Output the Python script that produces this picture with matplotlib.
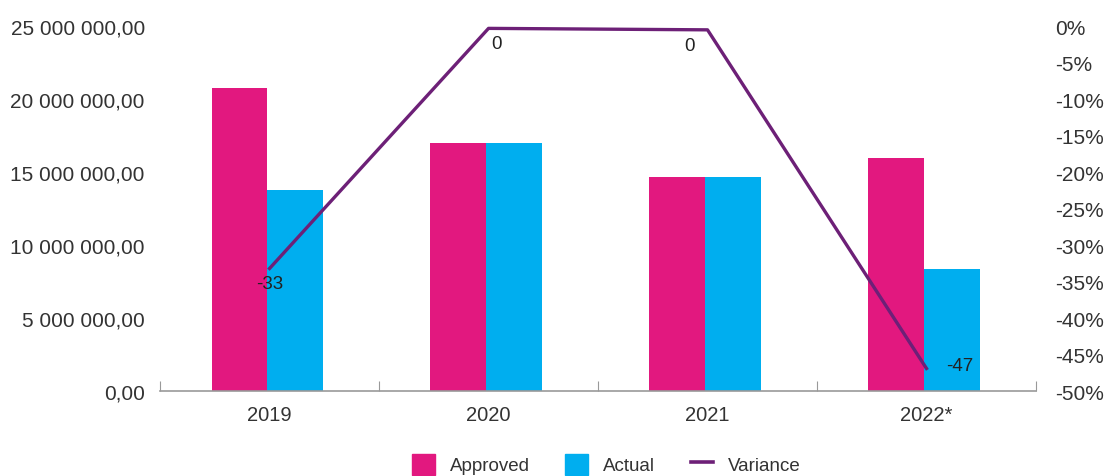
import matplotlib.pyplot as plt
from matplotlib.ticker import FuncFormatter, FixedLocator
from matplotlib.patches import Patch
from matplotlib.lines import Line2D

years = ['2019', '2020', '2021', '2022*']
approved = [20750000, 16990000, 14660000, 15960000]
actual = [13770000, 16990000, 14660000, 8360000]
variance = [-33.2, -0.3, -0.5, -46.9]

pink = '#E2187F'
blue = '#00AEEF'
purple = '#6D2077'
txt = '#333333'

plt.rcParams['font.family'] = ['Liberation Sans', 'DejaVu Sans']

fig = plt.figure(figsize=(11.13, 4.77), dpi=100)
ax = fig.add_axes([0.1438, 0.178, 0.787, 0.765])
x = range(len(years))
w = 0.255
ax.bar([i - w / 2 - 0.01 for i in x], approved, width=w, color=pink, zorder=2)
ax.bar([i + w / 2 - 0.01 for i in x], actual, width=w, color=blue, zorder=2)

ax.set_xlim(-0.5, len(years) - 0.5)
ax.set_ylim(0, 25000000)
ax.set_yticks(range(0, 25000001, 5000000))
ax.yaxis.set_major_formatter(FuncFormatter(
    lambda v, p: '{:,.2f}'.format(v).replace(',', ' ').replace('.', ',')))
ax.tick_params(axis='y', length=0, labelsize=15, labelcolor=txt, pad=11)

ax.xaxis.set_major_locator(FixedLocator([i - 0.5 for i in range(len(years) + 1)]))
ax.xaxis.set_minor_locator(FixedLocator(list(x)))
ax.xaxis.set_major_formatter(FuncFormatter(lambda v, p: ''))
ax.set_xticklabels(years, minor=True)
ax.tick_params(axis='x', which='major', direction='in', length=7, color='#999999')
ax.tick_params(axis='x', which='minor', length=0, labelsize=14.5, labelcolor=txt, pad=10)
for s in ['top', 'right', 'left']:
    ax.spines[s].set_visible(False)
ax.spines['bottom'].set_color('#999999')
ax.spines['bottom'].set_linewidth(1.2)

ax2 = ax.twinx()
ax2.plot(list(x), variance, color=purple, lw=2.4, zorder=3)
ax2.set_ylim(-50, 0)
ax2.set_yticks(range(-50, 1, 5))
ax2.yaxis.set_major_formatter(FuncFormatter(lambda v, p: '{:.0f}%'.format(v)))
ax2.tick_params(axis='y', length=0, labelsize=15, labelcolor=txt, pad=14)
for s in ax2.spines.values():
    s.set_visible(False)

offsets = [(0, -11), (6, -11), (-13, -11), (14, 2)]
for i, v in enumerate(variance):
    dx, dy = offsets[i]
    lab = '{:.0f}'.format(round(v))
    ax2.annotate(lab, (i, v), xytext=(dx, dy), textcoords='offset points',
                 ha='left' if i == 3 else 'center', va='center', fontsize=13.5,
                 color='#222222')

handles = [Patch(color=pink, label='Approved'), Patch(color=blue, label='Actual'),
           Line2D([], [], color=purple, lw=2.6, label='Variance')]
fig.legend(handles=handles, loc='center', bbox_to_anchor=(0.545, 0.025), ncol=3, frameon=False,
           fontsize=13.5, handlelength=1.2, handleheight=1.35, handletextpad=0.8,
           columnspacing=1.9, labelcolor=txt)

fig.savefig('out.png', dpi=100)
